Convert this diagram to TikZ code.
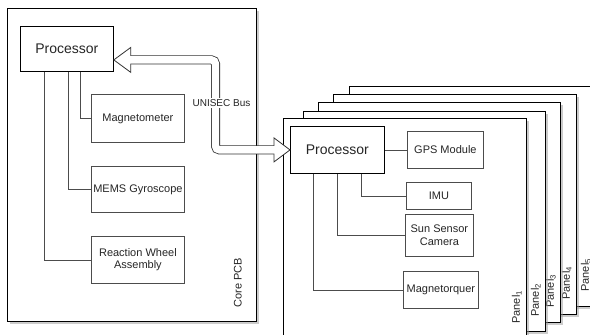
\documentclass[tikz,border=0pt]{standalone}
\usepackage{fontspec}
\setmainfont{Liberation Sans}
\usetikzlibrary{calc,shadows}

\tikzset{
 block/.style={draw=black, fill=white, line width=0.8pt, inner sep=0pt, anchor=north west,
  align=center, text=black!85, font=\fontsize{11}{12.5}\selectfont},
 size/.style 2 args={minimum width=#1pt, minimum height=#2pt},
 cpu/.style={block, font=\fontsize{14}{16}\selectfont},
 unit/.style={block, draw=black!70},
 board/.style={draw=black, fill=white, line width=0.8pt, inner sep=0pt, anchor=north west,
  drop shadow={shadow xshift=2.5pt, shadow yshift=-2.5pt, fill=black!40, opacity=0.5}},
 wire/.style={draw=black!70, line width=0.8pt},
 sidelabel/.style={rotate=90, anchor=west, inner sep=0pt, text=black!85,
  font=\fontsize{11}{12}\selectfont}
}

\begin{document}
\begin{tikzpicture}[x=1pt, y=-1pt]

\useasboundingbox (0,0) rectangle (590,335);
\clip (0,0) rectangle (590,335);

% core board
\node[board, size={249}{313}] (core) at (7,8) {};
\path ($(core.south east)+(-19,-14)$) node[sidelabel] (coreText) {Core PCB};

% stacked panels, back to front
\foreach \n/\x/\y/\w in {5/349/86/246, 4/333/94/243, 3/318/102/242, 2/303/111/242, 1/283/118/243}
 {
 \node[board, size={\w}{220}] (panel\n) at (\x,\y) {};
 \path ($(panel\n.south east)+(-10,-15)$) node[sidelabel] (panelText\n) {Panel\textsubscript{\n}};
 }

% core components
\node[cpu, size={93}{45}] (procA) at (20,26) {Processor};
\node[unit, size={93}{48}] (mag) at (91,94) {Magnetometer};
\node[unit, size={93}{46}] (gyro) at (91,166) {MEMS Gyroscope};
\node[unit, size={93}{47}] (rwa) at (91,236) {Reaction Wheel\\Assembly};

% panel components
\node[cpu, size={94}{47}] (procB) at (290,126) {Processor};
\node[unit, size={76}{37}] (gps) at (407,131) {GPS Module};
\node[unit, size={65}{27}] (imu) at (406,182) {IMU};
\node[unit, size={68}{42}] (sun) at (405,214) {Sun Sensor\\Camera};
\node[unit, size={75}{37}] (mtq) at (403,271) {Magnetorquer};

\draw[wire] (procA.south west) ++(60,0) |- (mag.west);
\draw[wire] (procA.south west) ++(48,0) |- (gyro.west);
\draw[wire] (procA.south west) ++(24,0) |- (rwa.west);

\draw[wire] (procB.east) -- (gps.west);
\draw[wire] (procB.south west) ++(71,0) |- (imu.west);
\draw[wire] (procB.south west) ++(47,0) |- (sun.west);
\draw[wire] (procB.south west) ++(23,0) |- (mtq.west);

% UNISEC bus, hollow double arrow
\coordinate (busL) at ($(procA.east)+(0,11)$);
\coordinate (busR) at (procB.west);
\coordinate (bend) at (215.5,100);
\draw[black!80, line width=9pt, rounded corners=4pt]
 ($(busL)+(17,0)$) -| (bend) |- ($(busR)+(-16,0)$);
\draw[black!80, fill=white, line width=0.8pt] (busL) -- ++(17,-12.5) -- ++(0,25) -- cycle;
\draw[black!80, fill=white, line width=0.8pt] (busR) -- ++(-16,-12) -- ++(0,24) -- cycle;
\draw[white, line width=7.4pt, rounded corners=4pt]
 ($(busL)+(15,0)$) -| (bend) |- ($(busR)+(-14,0)$);
\node[fill=white, inner sep=1pt, text=black!85, font=\fontsize{10}{11}\selectfont] (busText)
 at (221.5,103) {UNISEC Bus};

\end{tikzpicture}
\end{document}
